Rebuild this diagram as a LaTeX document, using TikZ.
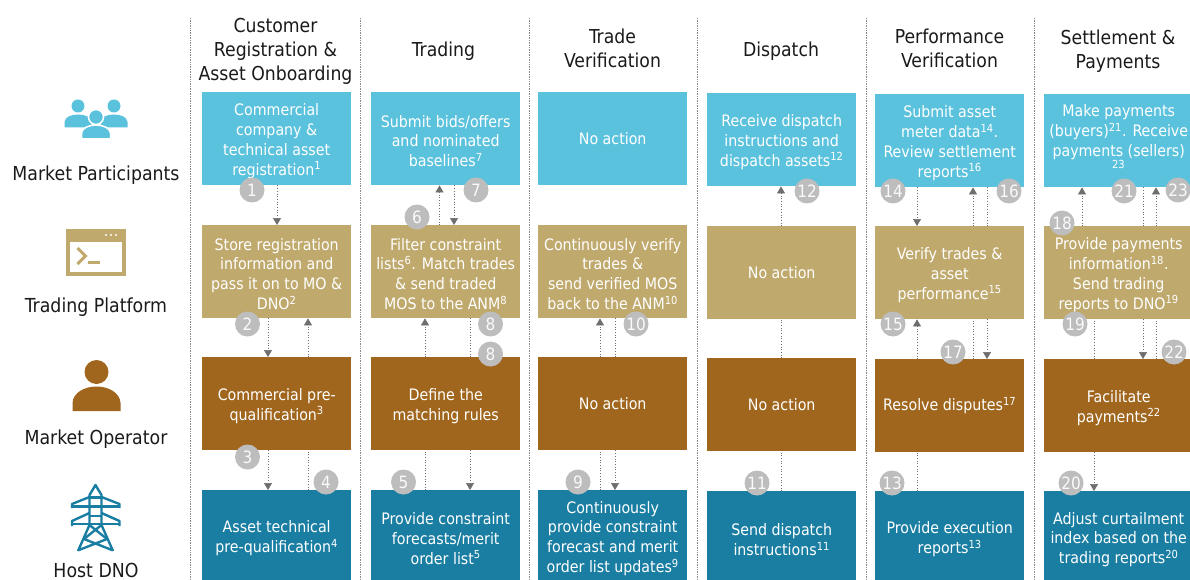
\documentclass[tikz,border=0pt]{standalone}
\usepackage{fontspec}
\setmainfont{DejaVu Sans Condensed}
\definecolor{cA}{HTML}{5BC2DD}
\definecolor{cB}{HTML}{C0A96D}
\definecolor{cC}{HTML}{A0661E}
\definecolor{cD}{HTML}{1A7EA3}
\definecolor{cG}{HTML}{BDBDBD}
\definecolor{cL}{HTML}{6E6E6E}
\definecolor{cH}{HTML}{1A1A1A}
\usetikzlibrary{arrows.meta}
\tikzset{
 cellbox/.style={minimum width=149pt,minimum height=93pt,inner sep=0pt,align=center,text=white,
   font=\fontsize{15.8}{19.8}\selectfont,anchor=north west},
 rowA/.style={cellbox,fill=cA}, rowB/.style={cellbox,fill=cB}, rowC/.style={cellbox,fill=cC}, rowD/.style={cellbox,fill=cD,minimum height=92pt},
 badge/.style={circle,fill=cG,minimum size=25pt,inner sep=0pt,text=white!92!cG,font=\fontsize{17}{17}\selectfont},
 arr/.style={draw=cL,line width=.7pt,dotted,-{Triangle[length=7pt,width=8pt,fill=cL]}},
 lin/.style={draw=cL,line width=.7pt,dotted},
 sep/.style={draw=cL!80,line width=.7pt,densely dotted},
 head/.style={align=center,text=cH,font=\fontsize{19.2}{24}\selectfont},
 lab/.style={text=cH,font=\fontsize{19.3}{22}\selectfont},
}
\newcommand\sU[1]{\textsuperscript{#1}}
\newcommand\T{\mbox{}\\[-3.3pt]}
\newcommand\cArr[3]{\draw[arr] (#1 -| #3,0) -- (#2 -| #3,0);}
\newcommand\cLin[3]{\draw[lin] (#1 -| #3,0) -- (#2 -| #3,0);}
\begin{document}
\begin{tikzpicture}[x=1pt,y=-1pt]
\useasboundingbox (0,0) rectangle (1190,580);
% separators
\foreach \n/\x in {a/190.5,b/360,c/529,d/697.5,e/866,f/1034.5}{
 \coordinate (s\n t) at (\x,18); \coordinate (s\n b) at (\x,580);
 \draw[sep] (s\n t) -- (s\n b);}
% headers
\node[head] (h1) at (275.5,51) {Customer\\Registration \&\\Asset Onboarding};
\node[head] (h2) at (443.5,51) {Trading};
\node[head] (h3) at (612.5,48.5) {Trade\\Verification};
\node[head] (h4) at (781,51) {Dispatch};
\node[head] (h5) at (949.5,48.5) {Performance\\Verification};
\node[head] (h6) at (1118,51) {Settlement \&\\Payments};
% row 1
\node[rowA] (a1) at (202,92) {\T Commercial\\company \&\\technical asset\\registration\sU{1}};
\node[rowA] (a2) at (371,92) {\T Submit bids/offers\\and nominated\\baselines\sU{7}};
\node[rowA] (a3) at (538,92) {No action};
\node[rowA] (a4) at (707,93) {\T Receive dispatch\\instructions and\\dispatch assets\sU{12}};
\node[rowA] (a5) at (875,94) {\T Submit asset\\meter data\sU{14}.\\Review settlement\\reports\sU{16}};
\node[rowA] (a6) at (1044,94) {\T Make payments\\(buyers)\sU{21}. Receive\\payments (sellers)\\[-2pt]\sU{23}\\[-12.6pt]\mbox{}};
% row 2
\node[rowB] (b1) at (202,225) {\T Store registration\\information and\\pass it on to MO \&\\DNO\sU{2}};
\node[rowB] (b2) at (371,225) {\T Filter constraint\\lists\sU{6}. Match trades\\\& send traded\\MOS to the ANM\sU{8}};
\node[rowB] (b3) at (538,225) {\T Continuously verify\\trades \&\\send verified MOS\\back to the ANM\sU{10}};
\node[rowB] (b4) at (707,226) {No action};
\node[rowB] (b5) at (875,226) {\T Verify trades \&\\asset\\performance\sU{15}};
\node[rowB] (b6) at (1044,226) {\T Provide payments\\information\sU{18}.\\Send trading\\reports to DNO\sU{19}};
% row 3
\node[rowC] (c1) at (202,357) {\T Commercial pre-\\qualification\sU{3}};
\node[rowC] (c2) at (371,357) {\T Define the\\matching rules};
\node[rowC] (c3) at (538,357) {No action};
\node[rowC] (c4) at (707,358) {No action};
\node[rowC] (c5) at (875,359) {Resolve disputes\sU{17}};
\node[rowC] (c6) at (1044,359) {\T Facilitate\\payments\sU{22}};
% row 4
\node[rowD] (d1) at (202,490) {\T Asset technical\\pre-qualification\sU{4}};
\node[rowD] (d2) at (371,490) {\T Provide constraint\\forecasts/merit\\order list\sU{5}};
\node[rowD] (d3) at (538,490) {\T Continuously\\provide constraint\\forecast and merit\\order list updates\sU{9}};
\node[rowD] (d4) at (707,491) {\T Send dispatch\\instructions\sU{11}};
\node[rowD] (d5) at (875,491) {\T Provide execution\\reports\sU{13}};
\node[rowD] (d6) at (1044,491) {\T Adjust curtailment\\index based on the\\trading reports\sU{20}};
% connectors
\cArr{a1.south}{b1.north}{277}
\cArr{b1.south}{c1.north}{268}
\cArr{c1.north}{b1.south}{308}
\cArr{c1.south}{d1.north}{268}
\cLin{d1.north}{c1.south}{308}
\cArr{b2.north}{a2.south}{439.5}
\cArr{a2.south}{b2.north}{454}
\cArr{c2.north}{b2.south}{425}
\cLin{b2.south}{c2.north}{470}
\cLin{d2.north}{c2.south}{425}
\cArr{c2.south}{d2.north}{470}
\cArr{c3.north}{b3.south}{600}
\cLin{b3.south}{c3.north}{615}
\cLin{d3.north}{c3.south}{600}
\cArr{c3.south}{d3.north}{615}
\cArr{b4.north}{a4.south}{781}
\cLin{c4.north}{b4.south}{781}
\cLin{d4.north}{c4.south}{781}
\cArr{a5.south}{b5.north}{917}
\cArr{b5.north}{a5.south}{973}
\cLin{a5.south}{b5.north}{987}
\cArr{c5.north}{b5.south}{917}
\cLin{c5.north}{b5.south}{973}
\cArr{b5.south}{c5.north}{987}
\cLin{d5.north}{c5.south}{917}
\cArr{b6.north}{a6.south}{1082}
\cLin{a6.south}{b6.north}{1143}
\cArr{b6.north}{a6.south}{1156}
\cLin{c6.north}{b6.south}{1094}
\cArr{b6.south}{c6.north}{1143}
\cLin{c6.north}{b6.south}{1156}
\cArr{c6.south}{d6.north}{1094}
% badges
\foreach \t/\x/\y in {1/252/190,2/247.5/324,3/247.5/457,4/326/482,5/403.5/482,6/417/217,7/476/190,
 8/490.5/324,8/490.5/354,9/578/482,10/636/324,11/757/483,12/807/191,13/892/483,14/893/191,15/893/324,
 16/1009/191,17/953/352,18/1062/223,19/1075/324,20/1071/483,21/1124/191,22/1174/352,23/1178/190}{
 \node[badge] (n\t-\x) at (\x,\y) {\t};
}
% row labels
\node[lab] (l1) at (96,175) {Market Participants};
\node[lab] (l2) at (96,307) {Trading Platform};
\node[lab] (l3) at (96,439) {Market Operator};
\node[lab] (l4) at (96,570) {Host DNO};
% people icon
\fill[cA] (78,106) circle (6.5) (114,106) circle (6.5);
\fill[cA] (64.5,127.5) -- (64.5,122) .. controls (65,117) and (71,114.5) .. (78,114.5) .. controls (85,114.5) and (91,117) .. (91.5,122) -- (91.5,127.5) -- cycle;
\fill[cA] (100.5,127.5) -- (100.5,122) .. controls (101,117) and (107,114.5) .. (114,114.5) .. controls (121,114.5) and (127,117) .. (127.5,122) -- (127.5,127.5) -- cycle;
\filldraw[fill=cA,draw=white,line width=1.5pt] (96,117) circle (7.5);
\filldraw[fill=cA,draw=white,line width=1.5pt] (81.5,139) -- (81.5,133) .. controls (82,128) and (89,125) .. (96,125) .. controls (103,125) and (110,128) .. (110.5,133) -- (110.5,139) -- cycle;
% terminal icon
\fill[cB] (66,229) rectangle (126,276);
\fill[white] (70,242) rectangle (121.5,271.5);
\fill[white] (106,235) circle (1.2) (111,235) circle (1.2) (116,235) circle (1.2);
\draw[cB,line width=3pt] (77.5,248) -- (85.5,256) -- (77.5,264);
\draw[cB,line width=2.6pt] (88,262.5) -- (100,262.5);
% person icon
\fill[cC] (96.5,372) circle (12);
\fill[cC] (72.5,411) -- (72.5,403) .. controls (73,393) and (84,386.5) .. (96.5,386.5) .. controls (109,386.5) and (120,393) .. (120.5,403) -- (120.5,411) -- cycle;
% tower icon
\begin{scope}[cD,line width=2.4pt,line join=round]
\draw (78,551) -- (89.5,525) -- (89.5,495) -- (95.5,485) -- (101.5,495) -- (101.5,525) -- (113,551);
\draw (72,508) -- (72,504) -- (89.5,497) (119.5,508) -- (119.5,504) -- (101.5,497);
\draw (72,506.5) -- (119.5,506.5);
\draw (89.5,497.5) -- (101.5,497.5);
\draw (89.5,516) -- (101.5,516);
\draw (72,526) -- (72,521) -- (89.5,513) (119.5,526) -- (119.5,521) -- (101.5,513);
\draw (72,524) -- (119.5,524);
\draw (89.5,525) -- (107,539) (101.5,525) -- (84,539);
\draw (84,539) -- (112,550) (107,539) -- (79,550);
\end{scope}
\end{tikzpicture}
\end{document}
